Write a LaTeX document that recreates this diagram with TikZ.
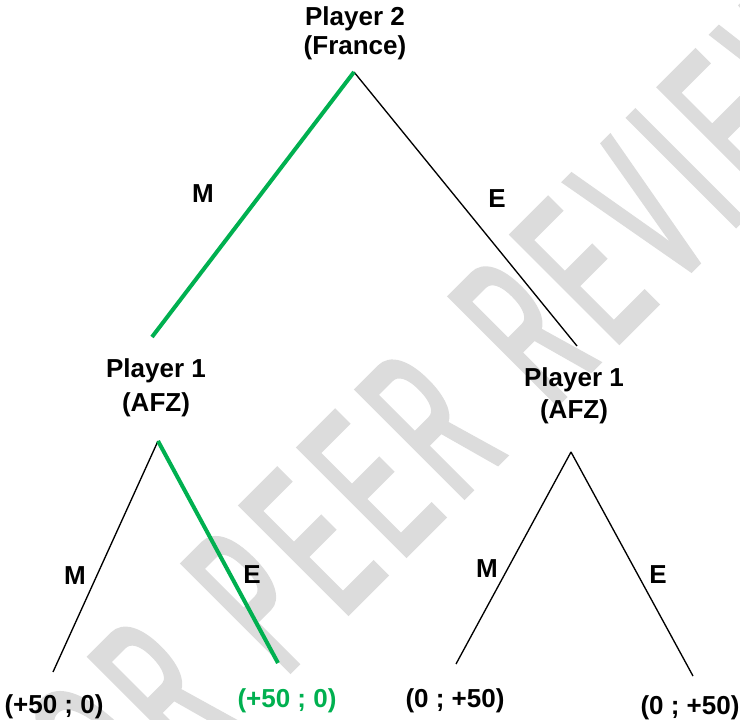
\documentclass[tikz,border=0pt]{standalone}
\usepackage{fontspec}
\setmainfont{Liberation Sans}
\newfontfamily\stampfont[FakeStretch=0.44, FakeBold=2.3]{Liberation Sans}
\def\trk{\kern13.1pt}
\definecolor{pathgreen}{RGB}{0,176,80}
\definecolor{stampgray}{RGB}{220,220,220}
\tikzset{every picture/.style={line width=0.75pt}}
\tikzset{
    player/.style={anchor=base, align=center, inner sep=0pt, font=\bfseries\fontsize{19.5}{22.5}\selectfont},
    move/.style={anchor=base, inner sep=0pt, font=\bfseries\fontsize{19.5}{22.5}\selectfont},
    payoff/.style={anchor=base, inner sep=0pt, font=\bfseries\fontsize{19.5}{22.5}\selectfont},
    branch/.style={draw=black, line width=1pt},
    chosen/.style={draw=pathgreen, line width=3pt}}
\begin{document}
\begin{tikzpicture}[x=0.75pt,y=0.75pt,yscale=-1,xscale=1]
            \useasboundingbox (0,0) rectangle (740,720);
            \clip (0,0) rectangle (740,720);

            %Watermark
            \node [anchor=base west, rotate=45, inner sep=0pt, text=stampgray] (stamp) at (71.6,889.4)
                {\stampfont\fontsize{165}{165}\selectfont
                 F\trk O\trk R\trk{} \trk P\trk E\trk E\trk R\trk{} \trk R\trk E\trk V\trk I\trk E\trk W};

            %Players (anchored on the last line)
            \node [player] (france) at (355,55) {Player 2\\[-0.75pt](France)};
            \node [player] (afzL) at (156,412) {Player 1\\[3pt](AFZ)};
            \node [player] (afzR) at (574,419) {Player 1\\[1.5pt](AFZ)};

            %Branch ends
            \coordinate (rootTip) at (354,72);
            \coordinate (afzLtop) at (152,337);
            \coordinate (afzRtop) at (577,346);
            \coordinate (afzLtip) at (158,441);
            \coordinate (afzRtip) at (571,452);
            \coordinate (outLM) at (53,672);
            \coordinate (outLE) at (278,663);
            \coordinate (outRM) at (456,664);
            \coordinate (outRE) at (693,676);

            %Branches
            \draw [branch] (rootTip) -- (afzRtop);
            \draw [chosen] (rootTip) -- (afzLtop);
            \draw [branch] (afzLtip) -- (outLM);
            \draw [chosen] (afzLtip) -- (outLE);
            \draw [branch] (afzRtip) -- (outRM);
            \draw [branch] (afzRtip) -- (outRE);

            %Moves
            \node [move] (mTop) at (203,202.5) {M};
            \node [move] (eTop) at (497,207.5) {E};
            \node [move] (mLeft) at (75,584.5) {M};
            \node [move] (eLeft) at (252,583.5) {E};
            \node [move] (mRight) at (487,577.5) {M};
            \node [move] (eRight) at (658,583.5) {E};

            %Payoffs
            \node [payoff] (payMM) at (54,713) {(+50 ; 0)};
            \node [payoff, text=pathgreen] (payME) at (287,707) {(+50 ; 0)};
            \node [payoff] (payEM) at (455,707) {(0 ; +50)};
            \node [payoff] (payEE) at (690,714) {(0 ; +50)};
\end{tikzpicture}
\end{document}
